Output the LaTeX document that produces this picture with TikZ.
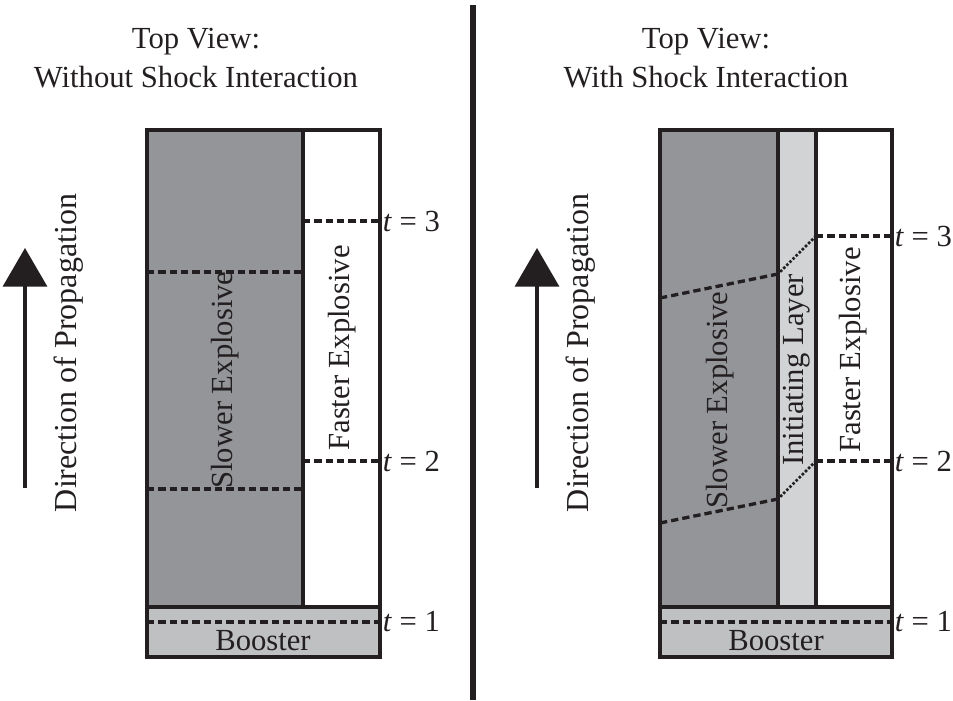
\documentclass[tikz,border=0pt]{standalone}
\usepackage{fontspec}
\setmainfont{Liberation Serif}
\usetikzlibrary{arrows.meta}
\definecolor{ink}{HTML}{231F20}
\definecolor{slowgray}{HTML}{939598}
\definecolor{layergray}{HTML}{D1D3D4}
\definecolor{boostgray}{HTML}{BFC0C2}
\begin{document}
\begin{tikzpicture}[x=0.75pt,y=-0.75pt,
  box/.style={draw=ink,line width=2.5pt},
  tline/.style={draw=ink,line width=2.5pt,dash pattern=on 5.5pt off 3pt},
  dline/.style={draw=ink,line width=2.7pt,line cap=round,dash pattern=on 0pt off 3.3pt},
  lbl/.style={font=\fontsize{23}{27}\selectfont,text=ink,inner sep=0pt},
  vlbl/.style={lbl,rotate=90},
  tlab/.style={lbl,anchor=west},
  arr/.style={draw=ink,line width=2.6pt,-{Triangle[width=33,length=29]}}]
\useasboundingbox (0,0) rectangle (953,700);
% divider
\draw[ink,line width=4pt] (473,5) coordinate (dv1) -- (473,700) coordinate (dv2);
% titles
\node[lbl] (t1a) at (196,42) {Top View:};
\node[lbl] (t1b) at (196,77) {Without Shock Interaction};
\node[lbl] (t2a) at (706,42) {Top View:};
\node[lbl] (t2b) at (706,77) {With Shock Interaction};
% arrows
\coordinate (a1s) at (25,488); \coordinate (a1e) at (25,248);
\draw[arr] (a1s) -- (a1e);
\node[vlbl,font=\fontsize{24}{28}\selectfont] (dir1) at (69,353) {Direction of Propagation};
\coordinate (a2s) at (537,488); \coordinate (a2e) at (537,248);
\draw[arr] (a2s) -- (a2e);
\node[vlbl,font=\fontsize{24}{28}\selectfont] (dir2) at (581,353) {Direction of Propagation};
% ---------- left panel
\fill[slowgray] (147,130) rectangle (303,607);
\fill[white] (303,130) rectangle (380,607);
\fill[boostgray] (147,607) rectangle (380,657);
\draw[tline] (147,272) coordinate (ls3) -- (303,272) coordinate (lm3);
\draw[tline] (147,489) coordinate (ls2) -- (303,489) coordinate (lm2);
\draw[tline] (303,221) coordinate (lf3) -- (380,221) coordinate (le3);
\draw[tline] (303,461) coordinate (lf2) -- (380,461) coordinate (le2);
\draw[tline] (147,622) coordinate (lb1) -- (380,622) coordinate (le1);
\draw[box] (147,130) rectangle (380,607);
\draw[box] (303,130) -- (303,607);
\draw[box] (147,607) rectangle (380,657);
\node[vlbl] (lslow) at (225,380) {Slower Explosive};
\node[vlbl] (lfast) at (342,348) {Faster Explosive};
\node[lbl] (lboost) at (263,641) {Booster};
\node[tlab] (lt3) at ([xshift=2]le3) {\textit{t} = 3};
\node[tlab] (lt2) at ([xshift=2]le2) {\textit{t} = 2};
\node[tlab] (lt1) at ([xshift=2]le1) {\textit{t} = 1};
% ---------- right panel
\fill[slowgray] (660,130) rectangle (778,607);
\fill[layergray] (778,130) rectangle (816,607);
\fill[white] (816,130) rectangle (892,607);
\fill[boostgray] (660,607) rectangle (892,657);
\coordinate (rs3) at (660,298); \coordinate (rm3) at (778,274); \coordinate (rf3) at (816,236); \coordinate (re3) at (892,236);
\coordinate (rs2) at (660,523); \coordinate (rm2) at (778,499); \coordinate (rf2) at (816,461); \coordinate (re2) at (892,461);
\draw[tline] (rs3) -- (rm3);
\draw[dline] (rm3) -- (rf3);
\draw[tline] (rf3) -- (re3);
\draw[tline] (rs2) -- (rm2);
\draw[dline] (rm2) -- (rf2);
\draw[tline] (rf2) -- (re2);
\draw[tline] (660,622) coordinate (rb1) -- (892,622) coordinate (re1);
\draw[box] (660,130) rectangle (892,607);
\draw[box] (778,130) -- (778,607);
\draw[box] (816,130) -- (816,607);
\draw[box] (660,607) rectangle (892,657);
\node[vlbl] (rslow) at (720,400) {Slower Explosive};
\node[vlbl] (rinit) at (797,370) {Initiating Layer};
\node[vlbl] (rfast) at (853,350) {Faster Explosive};
\node[lbl] (rboost) at (776,641) {Booster};
\node[tlab] (rt3) at ([xshift=2]re3) {\textit{t} = 3};
\node[tlab] (rt2) at ([xshift=2]re2) {\textit{t} = 2};
\node[tlab] (rt1) at ([xshift=2]re1) {\textit{t} = 1};
\end{tikzpicture}
\end{document}
